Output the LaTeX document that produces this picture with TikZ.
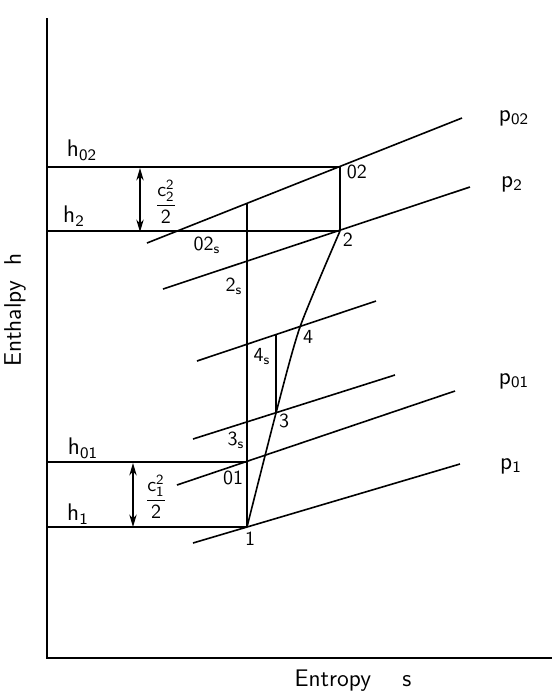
\documentclass[tikz,border=0pt]{standalone}
\usepackage{amsmath}
\usetikzlibrary{arrows.meta,positioning,calc}
\tikzset{
  axis/.style={line width=0.9pt, draw=black},
  isobar/.style={line width=0.8pt, draw=black},
  level/.style={line width=0.75pt, draw=black},
  isentrope/.style={line width=0.75pt, draw=black},
  process/.style={line width=0.8pt, draw=black},
  span/.style={{Stealth[length=2.2mm,width=1.3mm]}-{Stealth[length=2.2mm,width=1.3mm]}, line width=0.6pt},
  pt/.style={font=\sffamily\normalsize, inner sep=1pt},
  lab/.style={font=\sffamily\large, inner sep=1pt},
  ttl/.style={font=\sffamily\large, inner sep=1pt}
}

\begin{document}
\begin{tikzpicture}[x=0.5pt,y=-0.5pt]
  \useasboundingbox (0,0) rectangle (552,693);
  \coordinate (O) at (47,658);
  \coordinate (ytop) at (47,18);
  \coordinate (xend) at (552,658);
  \draw[axis] (ytop) -- (O) -- (xend);
  \node[ttl, rotate=90] (hlab) at (15,310) {Enthalpy\ \ h};
  \node[ttl] (slab) at (353,681) {Entropy\ \ \ \ s};

  \coordinate (s02) at (340,167);
  \coordinate (s2) at (340,231);
  \coordinate (s02s) at (247,204);
  \coordinate (s01) at (247,462);
  \coordinate (s1) at (247,527);
  \coordinate (s3) at (276,413);
  \coordinate (s4) at (300,327);
  \coordinate (s4v) at (276,335);

  \coordinate (p02a) at (147,243); \coordinate (p02b) at (462,118);
  \coordinate (p2a) at (163,289);  \coordinate (p2b) at (470,187);
  \coordinate (p4a) at (197,361);  \coordinate (p4b) at (376,301);
  \coordinate (p3a) at (193,439);  \coordinate (p3b) at (395,375);
  \coordinate (p01a) at (177,485); \coordinate (p01b) at (455,391);
  \coordinate (p1a) at (193,543);  \coordinate (p1b) at (460,464);
  \draw[isobar] (p02a) -- (p02b);
  \draw[isobar] (p2a) -- (p2b);
  \draw[isobar] (p4a) -- (p4b);
  \draw[isobar] (p3a) -- (p3b);
  \draw[isobar] (p01a) -- (p01b);
  \draw[isobar] (p1a) -- (p1b);

  \draw[level] (O |- s02) -- (s02);
  \draw[level] (O |- s2) -- (s2);
  \draw[level] (O |- s01) -- (s01);
  \draw[level] (O |- s1) -- (s1);
  \draw[isentrope] (s02s) -- (s1);
  \draw[isentrope] (s02) -- (s2);
  \draw[isentrope] (s4v) -- (s3);
  \draw[process] plot[smooth, tension=0.4] coordinates {(s1) (s3) (s4) (s2)};

  \draw[span] (140,168) -- (140,232);
  \draw[span] (133,463) -- (133,527);
  \node[pt] (c2) at (166,202) {$\dfrac{\mathsf{c_2^2}}{\mathsf{2}}$};
  \node[pt] (c1) at (156,497) {$\dfrac{\mathsf{c_1^2}}{\mathsf{2}}$};

  \node[lab] (h02) at (82,150) {$\mathsf{h_{02}}$};
  \node[lab] (h2) at (74,216) {$\mathsf{h_2}$};
  \node[lab] (h01) at (83,448) {$\mathsf{h_{01}}$};
  \node[lab] (h1) at (78,514) {$\mathsf{h_1}$};

  \node[lab] (pp02) at (514,118) {$\mathsf{p_{02}}$};
  \node[lab] (pp2) at (512,184) {$\mathsf{p_2}$};
  \node[lab] (pp01) at (514,381) {$\mathsf{p_{01}}$};
  \node[lab] (pp1) at (511,466) {$\mathsf{p_1}$};

  \node[pt] (l02) at (357,172) {$\mathsf{02}$};
  \node[pt] (l2) at (348,240) {$\mathsf{2}$};
  \node[pt] (l02s) at (207,245) {$\mathsf{02_s}$};
  \node[pt] (l2s) at (234,286) {$\mathsf{2_s}$};
  \node[pt] (l4s) at (262,356) {$\mathsf{4_s}$};
  \node[pt] (l4) at (308,337) {$\mathsf{4}$};
  \node[pt] (l3) at (284,421) {$\mathsf{3}$};
  \node[pt] (l3s) at (236,440) {$\mathsf{3_s}$};
  \node[pt] (l01) at (233,478) {$\mathsf{01}$};
  \node[pt] (l1) at (250,539) {$\mathsf{1}$};
\end{tikzpicture}
\end{document}
